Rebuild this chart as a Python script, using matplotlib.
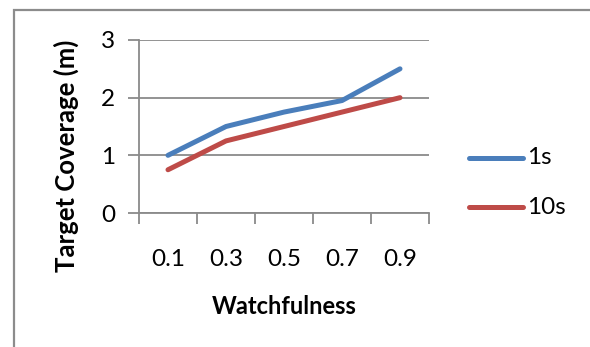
import matplotlib.pyplot as plt
from matplotlib.patches import Rectangle
from matplotlib.lines import Line2D

watchfulness = ["0.1", "0.3", "0.5", "0.7", "0.9"]
coverage_1s = [1.0, 1.5, 1.75, 1.95, 2.5]
coverage_10s = [0.75, 1.25, 1.5, 1.75, 2.0]
y_ticks = [0, 1, 2, 3]

plt.rcParams['font.family'] = ['Lato', 'DejaVu Sans']

W, H = 590, 347
fig = plt.figure(figsize=(W / 100, H / 100), dpi=100)


def px(x, y):
    # pixel coords (origin top-left) -> figure fraction
    return x / W, 1 - y / H


# chart frame, only left/top edges fall inside the image
fig.patches.append(Rectangle(px(14, 400), 700 / W, 390 / H, transform=fig.transFigure,
                             fill=False, edgecolor='#8c8c8c', linewidth=1.6))

left, top = px(139, 40)
right, bottom = px(429, 213)
ax = fig.add_axes([left, bottom, right - left, top - bottom])

grid_c = '#8a8a8a'
x = list(range(len(watchfulness)))
ax.plot(x, coverage_1s, color='#4a7ebb', linewidth=3.6, solid_capstyle='round', solid_joinstyle='round')
ax.plot(x, coverage_10s, color='#be4b48', linewidth=3.6, solid_capstyle='round', solid_joinstyle='round')

ax.set_xlim(-0.5, len(watchfulness) - 0.5)
ax.set_ylim(0, 3)
ax.set_yticks(y_ticks)
ax.set_yticklabels([str(t) for t in y_ticks], fontsize=17.5)
ax.yaxis.grid(True, color=grid_c, linewidth=1.3)
ax.set_axisbelow(True)

# category ticks sit between the categories
ax.set_xticks([i - 0.5 for i in range(len(watchfulness) + 1)])
ax.set_xticklabels([])
ax.set_xticks(x, minor=True)
ax.set_xticklabels(watchfulness, minor=True, fontsize=17.5)
ax.tick_params(axis='x', which='major', length=8, width=1.3, color=grid_c, direction='out')
ax.tick_params(axis='x', which='minor', length=0, pad=26)
ax.tick_params(axis='y', length=8, width=1.3, color=grid_c, direction='out', pad=9)

for s in ['top', 'right']:
    ax.spines[s].set_visible(False)
for s in ['left', 'bottom']:
    ax.spines[s].set_color(grid_c)
    ax.spines[s].set_linewidth(1.3)

fig.text(*px(284, 306), "Watchfulness", fontsize=17, fontweight='bold', ha='center', va='center')
fig.text(*px(66, 156), "Target Coverage (m)", fontsize=18.5, fontweight='bold',
         ha='center', va='center', rotation=90)

# legend drawn by hand at the right of the plot
for (label, color, yy) in [("1s", '#4a7ebb', 158), ("10s", '#be4b48', 207)]:
    x0, y0 = px(469, yy)
    x1, _ = px(523, yy)
    fig.add_artist(Line2D([x0, x1], [y0, y0], transform=fig.transFigure, color=color,
                          linewidth=3.6, solid_capstyle='round'))
    fig.text(*px(527, yy), label, fontsize=17.5, ha='left', va='center')

fig.savefig("out.png", dpi=100)
